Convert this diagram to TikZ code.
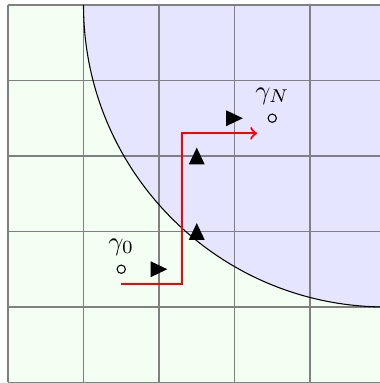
\documentclass[tikz,border=0pt]{standalone}
\begin{document}
\begin{tikzpicture}[
  gridline/.style={gray, line width=0.5pt},
  tri/.style={fill=black},
  pt/.style={circle, draw, inner sep=0pt, minimum size=0.11cm, line width=0.4pt},
  walk/.style={red, line width=0.8pt, ->}
]
\useasboundingbox (-0.106,-0.007) rectangle (4.914,5.066);
\fill[green!5] (0,0) rectangle (5,5);
\begin{scope}
  \clip (0,0) rectangle (5,5);
  \fill[blue!10] (5,5) circle (4);
\end{scope}
\draw[gridline] (0,0) grid (5,5);
\draw[line width=0.4pt] (1,5) arc (180:270:4);
% points
\node[pt, label={above:$\gamma_0$}] (g0) at (1.5,1.5) {};
\node[pt, label={above:$\gamma_N$}] (gN) at (3.5,3.5) {};
% walk
\coordinate (start) at (1.5,1.3);
\coordinate (c1) at (2.3,1.3);
\coordinate (c2) at (2.3,3.3);
\coordinate (end) at (3.3,3.3);
\draw[walk] (start) -- (c1) -- (c2) -- (end);
% triangles
\fill[tri, shift={(2,1.5)}] (-0.11,-0.105) -- (0.11,0) -- (-0.11,0.105) -- cycle;
\fill[tri, shift={(3,3.5)}] (-0.11,-0.105) -- (0.11,0) -- (-0.11,0.105) -- cycle;
\fill[tri, shift={(2.5,2)}, rotate=90] (-0.11,-0.105) -- (0.11,0) -- (-0.11,0.105) -- cycle;
\fill[tri, shift={(2.5,3)}, rotate=90] (-0.11,-0.105) -- (0.11,0) -- (-0.11,0.105) -- cycle;
\end{tikzpicture}
\end{document}
